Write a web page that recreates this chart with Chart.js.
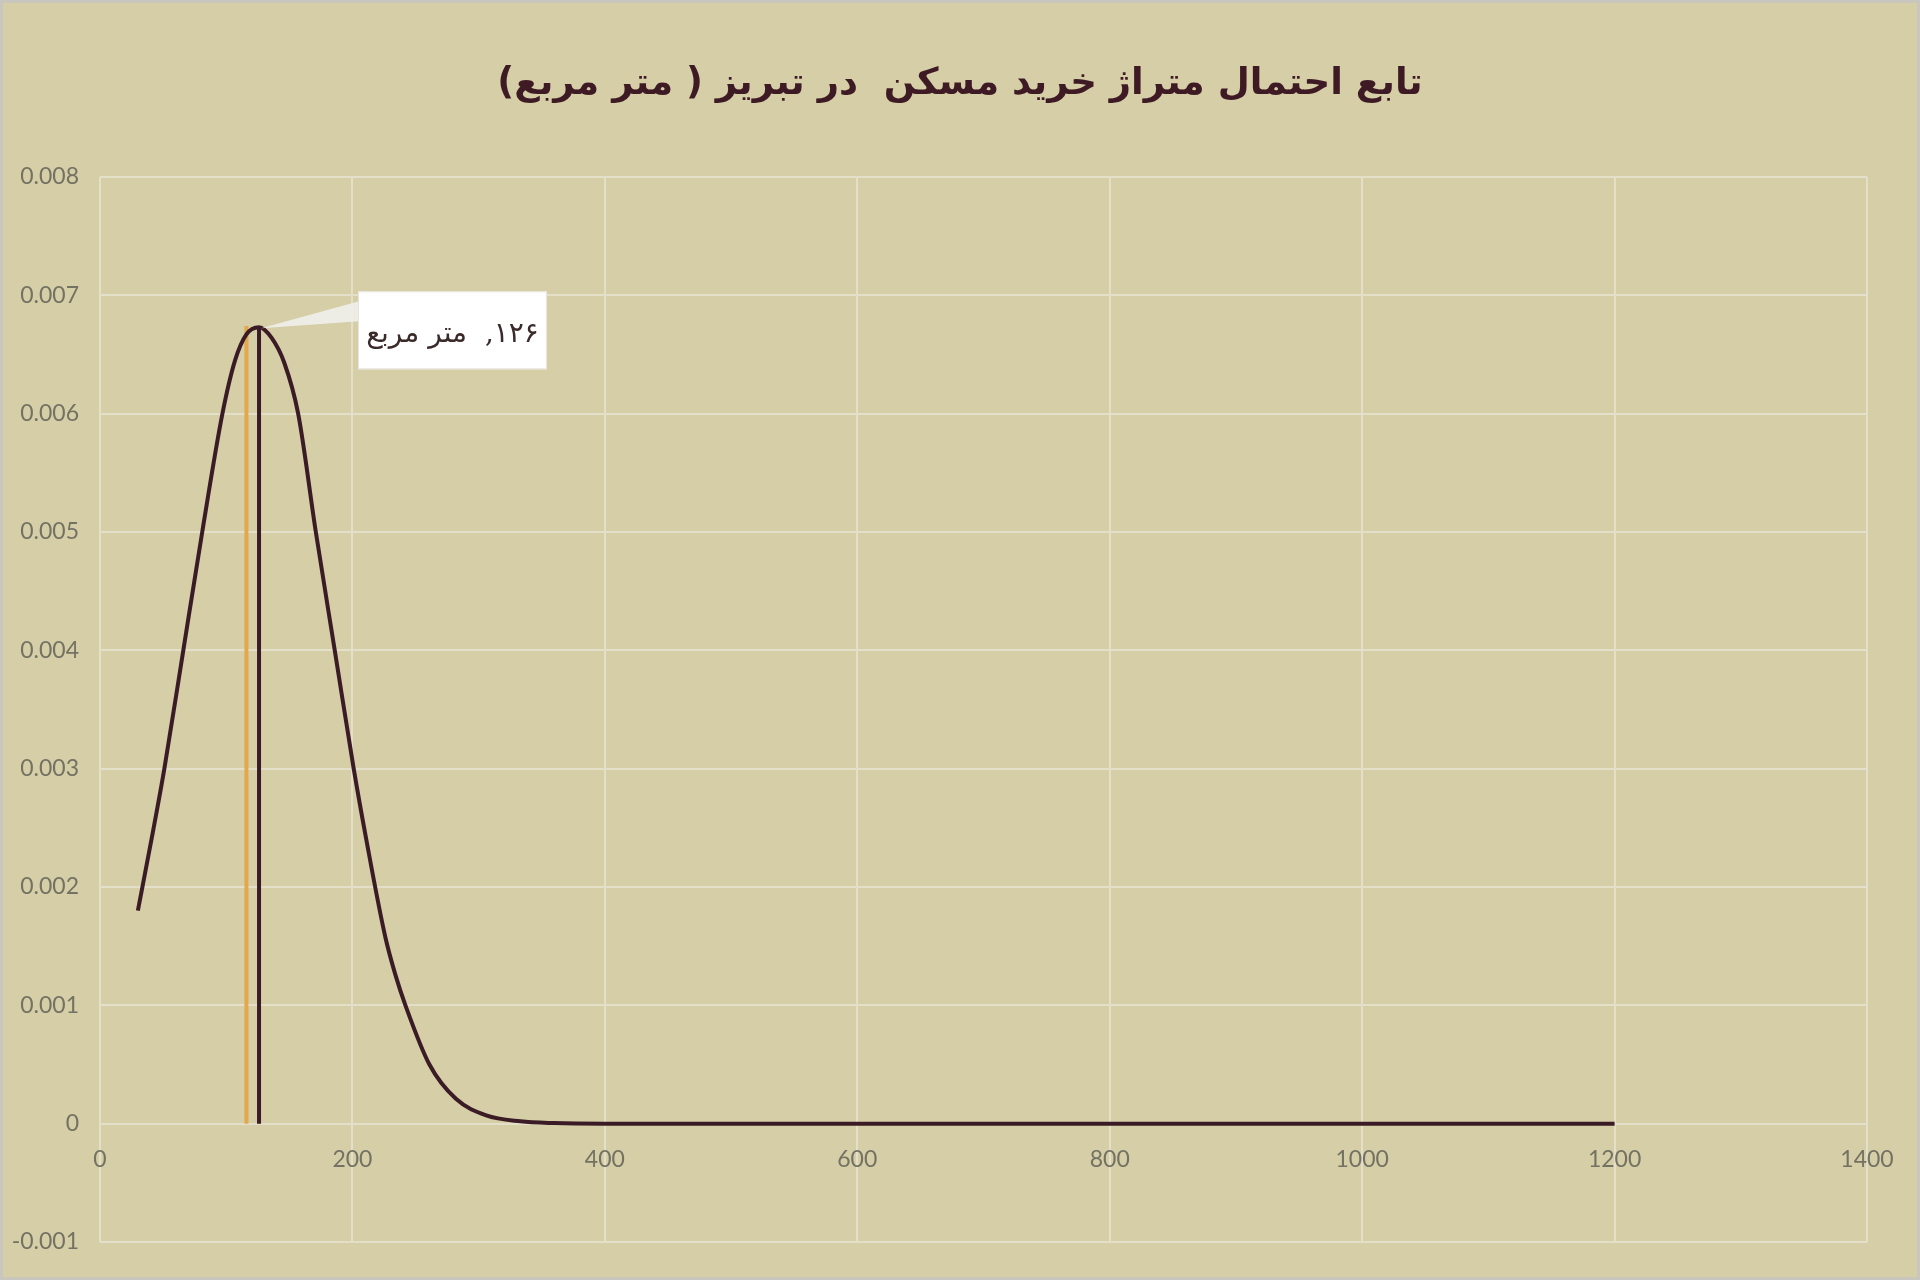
<!DOCTYPE html>
<html>
<head>
<meta charset="utf-8">
<title>تابع احتمال متراژ خرید مسکن</title>
<script src="https://cdn.jsdelivr.net/npm/chart.js@4.4.1/dist/chart.umd.min.js"></script>
<style>
  html, body { margin: 0; padding: 0; background: #d5cea6; }
  canvas { display: block; }
</style>
</head>
<body>
<canvas id="chart" width="1920" height="1280"></canvas>
<script>
// curve (area in m2 -> probability density)
const areaValues = [30, 42, 51, 66, 81, 97, 107, 116, 126, 136, 146, 157, 171, 186, 201, 211, 226, 234, 242, 261,
  282, 306, 333, 360, 400, 500, 600, 700, 800, 900, 1000, 1100, 1200];
const densityValues = [0.0018, 0.00247, 0.003, 0.004, 0.005, 0.006, 0.00645, 0.00667, 0.00673, 0.00664, 0.00643,
  0.006, 0.005, 0.004, 0.003, 0.0024, 0.00158, 0.00126, 0.001, 0.0005, 0.00021, 0.00007, 0.00002, 0.000005, 0, 0,
  0, 0, 0, 0, 0, 0, 0];

// two vertical marker lines (orange / dark)
const markerX = [116, 126];
const markerTop = [0.00674, 0.00673];
const markerColors = ['#e2a84c', '#3b1c26'];

const xTicks = [0, 200, 400, 600, 800, 1000, 1200, 1400];
const yTicks = [-0.001, 0, 0.001, 0.002, 0.003, 0.004, 0.005, 0.006, 0.007, 0.008];

const titleText = 'تابع احتمال متراژ خرید مسکن  در تبریز ( متر مربع)';
const calloutText = '۱۲۶,  متر مربع';

const bg = '#d5cea6';
const gridColor = '#e4dfc9';
const tickColor = '#737263';
const lineColor = '#3b1c26';
const tickFont = { family: 'Lato, "DejaVu Sans", sans-serif', size: 23 };

const curve = areaValues.map((x, i) => ({ x: x, y: densityValues[i] }));

const markerSets = markerX.map((x, i) => ({
  data: [{ x: x, y: 0 }, { x: x, y: markerTop[i] }],
  showLine: true,
  borderColor: markerColors[i],
  borderWidth: 4,
  pointRadius: 0,
  order: 2 + i
}));

const decor = {
  id: 'decor',
  beforeDraw(chart) {
    const ctx = chart.ctx;
    ctx.save();
    ctx.fillStyle = bg;
    ctx.fillRect(0, 0, chart.width, chart.height);
    ctx.strokeStyle = '#c9c7bd';
    ctx.lineWidth = 3;
    ctx.strokeRect(1.5, 1.5, chart.width - 3, chart.height - 3);
    // title
    ctx.direction = 'rtl';
    ctx.fillStyle = '#3d1a24';
    ctx.font = 'bold 37px "DejaVu Sans", sans-serif';
    ctx.textAlign = 'center';
    ctx.textBaseline = 'middle';
    ctx.fillText(titleText, 960, 84);
    ctx.restore();
  },
  afterDatasetsDraw(chart) {
    const ctx = chart.ctx;
    const xs = chart.scales.x, ys = chart.scales.y;
    // peak of the curve
    let k = 0;
    densityValues.forEach((v, i) => { if (v > densityValues[k]) k = i; });
    const px = xs.getPixelForValue(areaValues[k]);
    const py = ys.getPixelForValue(densityValues[k]);
    const bx = px + 99, by = py - 36, bw = 189, bh = 78;
    ctx.save();
    ctx.fillStyle = 'rgba(240,240,236,0.9)';
    ctx.beginPath();
    ctx.moveTo(px + 2, py + 1);
    ctx.lineTo(bx + 1, by + 10);
    ctx.lineTo(bx + 1, by + 30);
    ctx.closePath();
    ctx.fill();
    ctx.fillStyle = '#ffffff';
    ctx.fillRect(bx, by, bw, bh);
    ctx.strokeStyle = '#e6e4dc';
    ctx.lineWidth = 1;
    ctx.strokeRect(bx + 0.5, by + 0.5, bw - 1, bh - 1);
    ctx.direction = 'rtl';
    ctx.fillStyle = '#3a2a2a';
    ctx.font = '28px "DejaVu Serif", "DejaVu Sans", serif';
    ctx.textAlign = 'center';
    ctx.textBaseline = 'middle';
    ctx.fillText(calloutText, bx + bw / 2, by + bh / 2 + 4);
    ctx.restore();
  }
};

new Chart(document.getElementById('chart'), {
  type: 'scatter',
  data: {
    datasets: [
      {
        data: curve,
        showLine: true,
        borderColor: lineColor,
        borderWidth: 4,
        pointRadius: 0,
        cubicInterpolationMode: 'monotone',
        order: 0
      },
      ...markerSets
    ]
  },
  options: {
    responsive: false,
    devicePixelRatio: 1,
    animation: false,
    layout: { padding: { top: 177, left: 0, right: 53, bottom: 38 } },
    plugins: {
      legend: { display: false },
      tooltip: { enabled: false },
      title: { display: false }
    },
    scales: {
      x: {
        type: 'linear',
        position: { y: 0 },
        min: 0,
        max: 1400,
        afterBuildTicks: (s) => { s.ticks = xTicks.map(v => ({ value: v })); },
        grid: { color: gridColor, lineWidth: 2, drawTicks: false },
        border: { display: false },
        ticks: {
          color: tickColor,
          padding: 22,
          font: tickFont,
          callback: (v) => String(v)
        }
      },
      y: {
        type: 'linear',
        min: -0.001,
        max: 0.008,
        afterBuildTicks: (s) => { s.ticks = yTicks.map(v => ({ value: v })); },
        afterFit: (s) => { s.width = 100; },
        grid: { color: gridColor, lineWidth: 2, drawTicks: false },
        border: { display: false },
        ticks: {
          color: tickColor,
          padding: 21,
          font: tickFont,
          callback: (v) => String(Number(v.toFixed(3)))
        }
      }
    }
  },
  plugins: [decor]
});
</script>
</body>
</html>
